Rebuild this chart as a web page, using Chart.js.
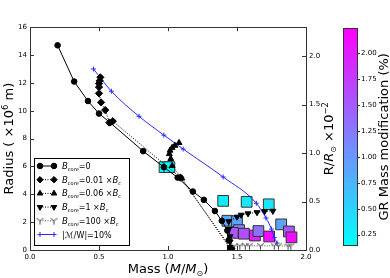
<!DOCTYPE html>
<html>
<head>
<meta charset="utf-8">
<script src="https://cdn.jsdelivr.net/npm/chart.js@4.4.1/dist/chart.umd.min.js"></script>
<style>
    html, body { margin: 0; padding: 0; background: #fff; }
    #wrap { width: 390px; height: 278px; }
</style>
</head>
<body>
<div id="wrap"><canvas id="mrChart" width="390" height="278"></canvas></div>
<script>
// B_core = 0
const b0Mass   = [0.20, 0.32, 0.42, 0.50, 0.58, 0.82, 0.97, 1.07, 1.18, 1.26, 1.34, 1.39, 1.43, 1.44, 1.45];
const b0Radius = [14.7, 12.1, 10.7, 9.8, 9.15, 7.1, 5.95, 5.2, 4.2, 3.6, 2.8, 2.1, 1.4, 0.7, 0.15];
// B_core = 0.01 Bc
const b001Mass   = [0.51, 0.505, 0.50, 0.50, 0.50, 0.515, 0.545, 0.575, 0.60, 1.09, 1.46];
const b001Radius = [12.4, 12.15, 11.95, 11.7, 11.25, 10.6, 10.05, 9.15, 9.25, 5.2, 0.1];
// B_core = 0.06 Bc
const b006Mass   = [1.08, 1.05, 1.03, 1.015, 1.01, 1.02, 1.03, 1.10, 1.45];
const b006Radius = [7.7, 7.5, 7.35, 7.15, 6.9, 6.55, 6.05, 5.15, 0.1];
// B_core = 1 Bc
const b1Mass   = [1.76, 1.70, 1.645, 1.58, 1.53, 1.50, 1.44, 1.44, 1.45, 1.45, 1.45];
const b1Radius = [2.8, 2.78, 2.7, 2.62, 2.52, 2.38, 2.05, 1.5, 0.97, 0.6, 0.2];
// B_core = 100 Bc
const b100Mass   = [1.48, 1.52, 1.56, 1.59, 1.67, 1.77, 1.80, 1.87, 1.89];
const b100Radius = [0.28, 0.3, 0.3, 0.3, 0.3, 0.3, 0.3, 0.28, 0.28];
// |M/W| = 10 %
const limitMass   = [0.46, 0.59, 0.79, 0.97, 1.11, 1.40, 1.64, 1.71, 1.75, 1.77, 1.79];
const limitRadius = [13.0, 11.4, 9.6, 8.25, 7.25, 5.24, 3.36, 2.3, 1.5, 0.9, 0.5];
// GR mass modification (%)
const grMass   = [0.975, 1.01, 1.40, 1.57, 1.73, 1.43, 1.50, 1.515, 1.47, 1.55, 1.63, 1.655, 1.733, 1.82, 1.876, 1.895];
const grRadius = [5.95, 5.95, 3.53, 3.46, 3.28, 2.1, 2.06, 1.43, 1.23, 1.17, 1.04, 1.36, 0.97, 1.84, 1.33, 0.91];
const grMod    = [0.15, 0.17, 0.30, 0.33, 0.36, 0.85, 0.9, 1.15, 1.55, 1.6, 1.95, 1.3, 2.15, 0.9, 1.55, 2.15];

const massTicks   = [0, 0.5, 1, 1.5, 2];
const radiusTicks = [0, 2, 4, 6, 8, 10, 12, 14, 16];
const solarTicks  = [0, 0.5, 1, 1.5, 2];
const modTicks    = [0.25, 0.5, 0.75, 1, 1.25, 1.5, 1.75, 2];

const RSUN_UNIT = 6.957;               // 1e-2 R_sun in units of 1e6 m
const CMAP_MIN = 0.145, CMAP_MAX = 2.245;
const CB_AXIS_MIN = 0.101, CB_AXIS_MAX = 2.254;
const SANS = 'DejaVu Sans';

function pts(xs, ys) {
    return xs.map((x, i) => ({ x: x, y: ys[i] }));
}

function cool(v) {
    let t = (v - CMAP_MIN) / (CMAP_MAX - CMAP_MIN);
    t = Math.max(0, Math.min(1, t));
    return `rgb(${Math.round(255 * t)}, ${Math.round(255 * (1 - t))}, 255)`;
}

// matplotlib "tri_down" marker
const triDown = document.createElement('canvas');
triDown.width = 9; triDown.height = 9;
(function () {
    const c = triDown.getContext('2d');
    c.strokeStyle = '#444';
    c.lineWidth = 1;
    c.beginPath();
    c.moveTo(4.5, 4.5); c.lineTo(4.5, 8.5);
    c.moveTo(4.5, 4.5); c.lineTo(1, 2);
    c.moveTo(4.5, 4.5); c.lineTo(8, 2);
    c.stroke();
})();

function drawRich(ctx, parts, x, y, align, angle) {
    ctx.save();
    ctx.translate(x, y);
    if (angle) ctx.rotate(angle);
    ctx.textAlign = 'left';
    ctx.textBaseline = 'alphabetic';
    ctx.fillStyle = '#000';
    let total = 0;
    parts.forEach(p => { ctx.font = p.font; p.w = ctx.measureText(p.text).width; total += p.w; });
    let cx = align === 'center' ? -total / 2 : 0;
    parts.forEach(p => { ctx.font = p.font; ctx.fillText(p.text, cx, p.dy || 0); cx += p.w; });
    ctx.restore();
}

const f = (size, style) => `${style || ''} ${size}px "${SANS}"`.trim();

function bLabel(rest, withBc) {
    const parts = [
        { text: 'B', font: f(8.5, 'italic') },
        { text: 'core', font: f(5, 'italic'), dy: 2 },
        { text: rest, font: f(8) }
    ];
    if (withBc) {
        parts.push({ text: 'B', font: f(8.5, 'italic') });
        parts.push({ text: 'c', font: f(5, 'italic'), dy: 2 });
    }
    return parts;
}

const baseLine = {
    showLine: true,
    borderWidth: 1,
    borderColor: '#000',
    backgroundColor: '#000',
    pointBorderColor: '#000',
    pointBackgroundColor: '#000',
    pointBorderWidth: 1
};

const datasets = [
    Object.assign({}, baseLine, {
        label: 'B=0', data: pts(b0Mass, b0Radius),
        pointStyle: 'circle', pointRadius: 2.8
    }),
    Object.assign({}, baseLine, {
        label: 'B=0.01', data: pts(b001Mass, b001Radius), borderDash: [1, 1.5],
        pointStyle: 'rectRot', pointRadius: 3.6
    }),
    Object.assign({}, baseLine, {
        label: 'B=0.06', data: pts(b006Mass, b006Radius), borderDash: [1, 1.5],
        pointStyle: 'triangle', pointRadius: 3.4
    }),
    Object.assign({}, baseLine, {
        label: 'B=1', data: pts(b1Mass, b1Radius), borderDash: [1, 1.5],
        pointStyle: 'triangle', pointRotation: 180, pointRadius: 3.4
    }),
    Object.assign({}, baseLine, {
        label: 'B=100', data: pts(b100Mass, b100Radius), borderDash: [1, 1.5],
        borderColor: '#555', pointStyle: triDown
    }),
    {
        label: '10%', data: pts(limitMass, limitRadius), showLine: true,
        borderColor: '#2a2aff', borderWidth: 1, cubicInterpolationMode: 'monotone',
        pointStyle: 'cross', pointRadius: 2.5, pointBorderColor: '#2a2aff', pointBorderWidth: 1
    },
    {
        label: 'GR', data: pts(grMass, grRadius), showLine: false,
        pointStyle: 'rect', pointRadius: 7.6, pointBorderWidth: 1,
        pointBorderColor: '#333',
        pointBackgroundColor: grMod.map(cool)
    }
];

const legendRows = [
    { ds: 0, parts: bLabel('=0', false) },
    { ds: 1, parts: bLabel('=0.01 \u00d7', true) },
    { ds: 2, parts: bLabel('=0.06 \u00d7', true) },
    { ds: 3, parts: bLabel('=1 \u00d7', true) },
    { ds: 4, parts: bLabel('=100 \u00d7', true) },
    { ds: 5, parts: [{ text: '|', font: f(8) }, { text: '\u2133', font: f(8.5, 'italic') }, { text: '/W|=10%', font: f(8) }] }
];

const decorations = {
    id: 'decorations',
    afterDraw(chart) {
        const ctx = chart.ctx;
        const a = chart.chartArea;
        const sx = chart.scales.x, sy = chart.scales.y, sy2 = chart.scales.y2, cb = chart.scales.cb;
        ctx.save();

        // frame
        ctx.strokeStyle = '#333';
        ctx.lineWidth = 1;
        ctx.strokeRect(Math.round(a.left) + 0.5, Math.round(a.top) + 0.5,
            Math.round(a.right - a.left), Math.round(a.bottom - a.top));

        // inward ticks
        ctx.beginPath();
        massTicks.forEach(v => {
            const px = Math.round(sx.getPixelForValue(v)) + 0.5;
            ctx.moveTo(px, a.bottom); ctx.lineTo(px, a.bottom - 4);
            ctx.moveTo(px, a.top); ctx.lineTo(px, a.top + 4);
        });
        radiusTicks.forEach(v => {
            const py = Math.round(sy.getPixelForValue(v)) + 0.5;
            ctx.moveTo(a.left, py); ctx.lineTo(a.left + 4, py);
        });
        solarTicks.forEach(v => {
            const py = Math.round(sy2.getPixelForValue(v)) + 0.5;
            ctx.moveTo(a.right, py); ctx.lineTo(a.right - 4, py);
        });
        ctx.stroke();

        // colour bar
        const barL = cb.left + 5, barW = 14;
        const barTop = cb.getPixelForValue(CMAP_MAX), barBot = cb.getPixelForValue(CMAP_MIN);
        const grad = ctx.createLinearGradient(0, barBot, 0, barTop);
        grad.addColorStop(0, cool(CMAP_MIN));
        grad.addColorStop(1, cool(CMAP_MAX));
        ctx.fillStyle = grad;
        ctx.fillRect(barL, barTop, barW, barBot - barTop);
        ctx.strokeStyle = '#333';
        ctx.strokeRect(Math.round(barL) + 0.5, Math.round(barTop) + 0.5, barW, Math.round(barBot - barTop));
        ctx.beginPath();
        modTicks.forEach(v => {
            const py = Math.round(cb.getPixelForValue(v)) + 0.5;
            ctx.moveTo(barL + barW, py); ctx.lineTo(barL + barW + 3, py);
        });
        ctx.stroke();

        // axis titles
        drawRich(ctx, [
            { text: 'Mass (', font: f(13) },
            { text: 'M', font: f(13, 'italic') },
            { text: '/', font: f(13) },
            { text: 'M', font: f(13, 'italic') },
            { text: '\u2299', font: f(8), dy: 3 },
            { text: ')', font: f(13) }
        ], (a.left + a.right) / 2, 273, 'center', 0);
        drawRich(ctx, [
            { text: 'Radius ( ', font: f(13) },
            { text: '\u00d710', font: f(13) },
            { text: '6', font: f(8.5), dy: -5 },
            { text: ' m)', font: f(13) }
        ], 13, (a.top + a.bottom) / 2, 'center', -Math.PI / 2);
        drawRich(ctx, [
            { text: 'R', font: f(13) },
            { text: '/', font: f(13) },
            { text: 'R', font: f(13, 'italic') },
            { text: '\u2299', font: f(8), dy: 3 },
            { text: ' \u00d710', font: f(13) },
            { text: '\u22122', font: f(8.5), dy: -5 }
        ], sy2.left + 27, (a.top + a.bottom) / 2, 'center', -Math.PI / 2);
        drawRich(ctx, [
            { text: 'GR Mass modification (%)', font: f(13) }
        ], cb.left + 50, (barTop + barBot) / 2, 'center', -Math.PI / 2);

        // legend
        const lx = 34, ly = 158, lw = 95, lh = 87;
        ctx.fillStyle = '#fff';
        ctx.fillRect(lx, ly, lw, lh);
        ctx.strokeStyle = '#000';
        ctx.strokeRect(lx + 0.5, ly + 0.5, lw, lh);
        legendRows.forEach((row, i) => {
            const ds = chart.data.datasets[row.ds];
            const y = ly + 8 + i * 13.7;
            ctx.save();
            ctx.strokeStyle = ds.borderColor;
            ctx.lineWidth = 1;
            ctx.setLineDash(ds.borderDash || []);
            ctx.beginPath();
            ctx.moveTo(40, y); ctx.lineTo(54, y);
            ctx.stroke();
            ctx.restore();
            [40, 54].forEach(px => {
                ctx.save();
                ctx.fillStyle = ds.pointBackgroundColor || '#000';
                ctx.strokeStyle = ds.pointBorderColor || '#000';
                ctx.lineWidth = 1;
                Chart.helpers.drawPoint(ctx, {
                    pointStyle: ds.pointStyle,
                    rotation: ds.pointRotation || 0,
                    radius: Math.min(ds.pointRadius || 3, 3.2),
                    borderWidth: 1
                }, px, y);
                ctx.restore();
            });
            drawRich(ctx, row.parts, 62, y + 3, 'left', 0);
        });

        ctx.restore();
    }
};

const tickFont = { family: SANS, size: 7 };

const ctx = document.getElementById('mrChart').getContext('2d');
const mrChart = new Chart(ctx, {
    type: 'scatter',
    data: { datasets: datasets },
    options: {
        responsive: false,
        animation: false,
        layout: { padding: { top: 4, left: 0, right: 0, bottom: 0 } },
        plugins: { legend: { display: false }, tooltip: { enabled: false } },
        scales: {
            x: {
                type: 'linear', min: 0, max: 2,
                grid: { display: false, drawTicks: false }, border: { display: false },
                afterBuildTicks: s => { s.ticks = massTicks.map(v => ({ value: v })); },
                afterFit: s => { s.height = 28; },
                ticks: { font: tickFont, color: '#000', padding: 3, maxRotation: 0,
                    callback: v => v.toFixed(1) }
            },
            y: {
                type: 'linear', position: 'left', min: 0, max: 16,
                grid: { display: false, drawTicks: false }, border: { display: false },
                afterBuildTicks: s => { s.ticks = radiusTicks.map(v => ({ value: v })); },
                afterFit: s => { s.width = 30; },
                ticks: { font: tickFont, color: '#000', padding: 3, callback: v => String(v) }
            },
            y2: {
                type: 'linear', position: 'right', min: 0, max: 16 / RSUN_UNIT,
                grid: { display: false, drawTicks: false }, border: { display: false },
                afterBuildTicks: s => { s.ticks = solarTicks.map(v => ({ value: v })); },
                afterFit: s => { s.width = 32; },
                ticks: { font: tickFont, color: '#000', padding: 3, callback: v => v.toFixed(1) }
            },
            cb: {
                type: 'linear', position: 'right', min: CB_AXIS_MIN, max: CB_AXIS_MAX,
                grid: { display: false, drawTicks: false }, border: { display: false },
                afterBuildTicks: s => { s.ticks = modTicks.map(v => ({ value: v })); },
                afterFit: s => { s.width = 52; },
                ticks: { font: tickFont, color: '#000', padding: 23, callback: v => v.toFixed(2) }
            }
        }
    },
    plugins: [decorations]
});
</script>
</body>
</html>
